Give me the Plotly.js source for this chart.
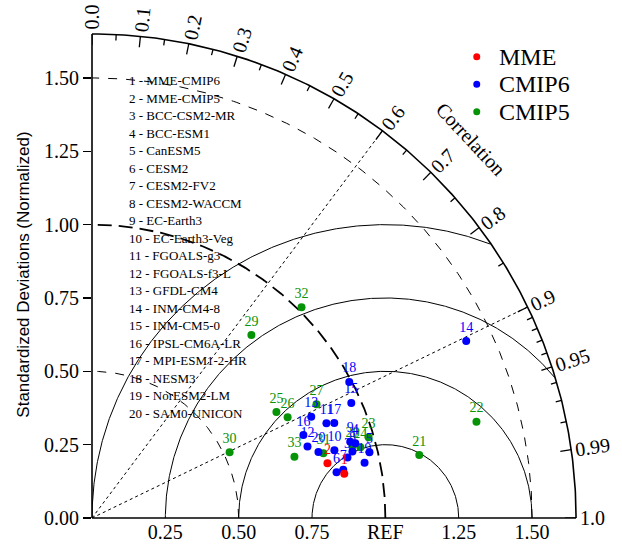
<!DOCTYPE html>
<html><head><meta charset="utf-8">
<script src="https://cdn.plot.ly/plotly-3.0.1.min.js"></script>
<style>html,body{margin:0;padding:0;background:#fff}</style>
</head><body><div id="chart" style="width:622px;height:548px"></div>
<script>
// ---- data ----
const modelNames = ["MME-CMIP6","MME-CMIP5","BCC-CSM2-MR","BCC-ESM1","CanESM5","CESM2","CESM2-FV2","CESM2-WACCM","EC-Earth3","EC-Earth3-Veg","FGOALS-g3","FGOALS-f3-L","GFDL-CM4","INM-CM4-8","INM-CM5-0","IPSL-CM6A-LR","MPI-ESM1-2-HR","NESM3","NorESM2-LM","SAM0-UNICON"];
const groupNames = ["MME","CMIP6","CMIP5"];

const mmeIds  = [1, 2];
const mmeStd  = [0.873, 0.824];
const mmeCorr = [0.985, 0.974];

const cmip6Ids  = [3,4,5,6,7,8,9,10,11,12,13,14,15,16,17,18,19,20];
const cmip6Std  = [0.895,0.933,0.972,0.848,0.872,0.916,0.918,0.858,0.862,0.774,0.823,1.411,0.967,0.774,0.887,0.992,0.948,0.804];
const cmip6Corr = [0.973,0.962,0.973,0.983,0.982,0.969,0.959,0.963,0.927,0.949,0.908,0.904,0.914,0.931,0.931,0.884,0.980,0.960];

const cmip5Ids  = [21,22,23,24,25,26,27,28,29,30,31,32,33];
const cmip5Std  = [1.136,1.351,0.982,0.946,0.725,0.750,0.858,0.921,0.827,0.520,0.819,1.013,0.721];
const cmip5Corr = [0.982,0.970,0.960,0.967,0.867,0.889,0.892,0.964,0.657,0.902,0.963,0.705,0.957];

const stdTickVals = [0, 0.25, 0.5, 0.75, 1.0, 1.25, 1.5];
const xTickText = ["", "0.25", "0.50", "0.75", "REF", "1.25", "1.50"];
const corrMajor = [0.0,0.1,0.2,0.3,0.4,0.5,0.6,0.7,0.8,0.9,0.95,0.99,1.0];
const corrMajorText = ["0.0","0.1","0.2","0.3","0.4","0.5","0.6","0.7","0.8","0.9","0.95","0.99","1.0"];
const corrMinor = [0.05,0.15,0.25,0.35,0.45,0.55,0.65,0.75,0.85,0.91,0.92,0.93,0.94,0.96,0.97,0.98];
const rmsRadii = [0.25, 0.5, 0.75, 1.0];
const stdArcsThin = [0.5, 1.5];
const refStd = 1.0;
const radialCorr = [0.6, 0.9];
const SMAX = 1.65;
const RMAX = 1.66;

// ---- helpers ----
const SERIF = "Liberation Serif, Times New Roman, serif";
const PX = 484 / SMAX; // pixels per unit
const PLOT = RMAX * PX;
function toXY(s, c){ return [s*c, s*Math.sqrt(Math.max(0,1-c*c))]; }
function arcTrace(r, dash, width){
  const x=[], y=[];
  for(let i=0;i<=240;i++){ const a=Math.PI/2*i/240; x.push(r*Math.cos(a)); y.push(r*Math.sin(a)); }
  return {x,y,mode:'lines',line:{color:'black',width:width,dash:dash},hoverinfo:'skip',showlegend:false};
}
function rmsTrace(R){
  const x=[], y=[];
  for(let i=0;i<=600;i++){
    const p=Math.PI*i/600; const xx=1+R*Math.cos(p), yy=R*Math.sin(p);
    if (xx*xx+yy*yy <= SMAX*SMAX+1e-9 && xx>=-1e-9){ x.push(xx); y.push(yy);} else { x.push(null); y.push(null); }
  }
  return {x,y,mode:'lines',line:{color:'black',width:1},hoverinfo:'skip',showlegend:false};
}
function groupTrace(name, ids, std, corr, color){
  const x=[], y=[];
  for(let i=0;i<ids.length;i++){ const p=toXY(std[i],corr[i]); x.push(p[0]); y.push(p[1]); }
  return {x,y,name,mode:'markers+text',text:ids.map(String),textposition:'top center',
    textfont:{family:SERIF,size:14,color:color},marker:{color:color,size:8},
    hoverinfo:'skip',showlegend:false,cliponaxis:false};
}

const traces = [];
traces.push(arcTrace(SMAX,'solid',1.6));
stdArcsThin.forEach(r=>traces.push(arcTrace(r,'dash',1)));
traces.push(arcTrace(refStd,'14px,7px',1.8));
rmsRadii.forEach(R=>traces.push(rmsTrace(R)));
radialCorr.forEach(c=>{ const p=toXY(SMAX,c); traces.push({x:[0,p[0]],y:[0,p[1]],mode:'lines',line:{color:'black',width:1,dash:'3px,3px'},hoverinfo:'skip',showlegend:false}); });
function tickTrace(list, len){
  const x=[], y=[];
  list.forEach(c=>{ const a=toXY(SMAX,c), b=toXY(SMAX-len,c); x.push(a[0],b[0],null); y.push(a[1],b[1],null); });
  return {x,y,mode:'lines',line:{color:'black',width:1.3},hoverinfo:'skip',showlegend:false};
}
traces.push(tickTrace(corrMajor, 11/PX));
traces.push(tickTrace(corrMinor, 6/PX));

const colors = {MME:'#ff0000', CMIP6:'#0000ff', CMIP5:'#079307'};
traces.push(groupTrace('CMIP5', cmip5Ids, cmip5Std, cmip5Corr, colors.CMIP5));
traces.push(groupTrace('CMIP6', cmip6Ids, cmip6Std, cmip6Corr, colors.CMIP6));
traces.push(groupTrace('MME', mmeIds, mmeStd, mmeCorr, colors.MME));

const annotations = [];
corrMajor.forEach((c,i)=>{
  const t = corrMajorText[i];
  const wpx = (t.length-1)*10 + 5;
  const r = SMAX + (4 + wpx/2)/PX;
  const p = toXY(r,c);
  const ang = Math.acos(c)*180/Math.PI;
  annotations.push({x:p[0]/RMAX,y:p[1]/RMAX,xref:'paper',yref:'paper',text:t,showarrow:false,textangle:-ang,
    font:{family:SERIF,size:20,color:'black'},xanchor:'center',yanchor:'middle'});
});
{ const p = toXY(1.825, Math.cos(45*Math.PI/180));
  annotations.push({x:p[0]/RMAX,y:p[1]/RMAX,xref:'paper',yref:'paper',text:'Correlation',showarrow:false,textangle:47,
    xanchor:'center',yanchor:'middle',font:{family:SERIF,size:20,color:'black'}}); }
modelNames.forEach((n,i)=>{
  const ypx = 80.7 + i*17.5;
  annotations.push({x:(127-92)/PLOT, y:(518-ypx)/PLOT, xref:'paper', yref:'paper', xanchor:'left', yanchor:'middle',
    text:(i+1)+' - '+n, showarrow:false, font:{family:SERIF,size:13,color:'black'}});
});
const shapes = [];
groupNames.forEach((g,i)=>{
  const ypx = 56.7 + i*27.5;
  annotations.push({x:(496.7-92)/PLOT, y:(518-ypx)/PLOT, xref:'paper', yref:'paper', xanchor:'left', yanchor:'middle',
    text:g, showarrow:false, font:{family:SERIF,size:24,color:'black'}});
  shapes.push({type:'circle', xref:'paper', yref:'paper', xsizemode:'pixel', ysizemode:'pixel',
    xanchor:(476.7-92)/PLOT, yanchor:(518-ypx)/PLOT, x0:-3.5, x1:3.5, y0:-3.5, y1:3.5,
    fillcolor:colors[g], line:{width:0}});
});
shapes.push({type:'line', xref:'paper', yref:'paper', x0:0, y0:0, x1:SMAX/RMAX, y1:0, line:{color:'black',width:1.6}});
shapes.push({type:'line', xref:'paper', yref:'paper', x0:0, y0:0, x1:0, y1:SMAX/RMAX, line:{color:'black',width:1.6}});

const layout = {
  width:622, height:548,
  margin:{l:92,r:622-92-PLOT,t:548-30-PLOT,b:30},
  paper_bgcolor:'white', plot_bgcolor:'white',
  showlegend:false,
  xaxis:{range:[0,RMAX], showgrid:false, zeroline:false, showline:false,
    tickvals:stdTickVals, ticktext:xTickText, ticks:'', tickfont:{family:SERIF,size:20,color:'black'}, fixedrange:true},
  yaxis:{range:[0,RMAX], showgrid:false, zeroline:false, showline:false,
    tickvals:stdTickVals, ticktext:stdTickVals.map(v=>v.toFixed(2)), ticks:'outside', ticklen:8, tickwidth:1.3, tickcolor:'black',
    tickfont:{family:SERIF,size:20,color:'black'},
    title:{text:'Standardized Deviations (Normalized)', font:{family:'Liberation Sans, Arial, sans-serif',size:17,color:'black'}, standoff:10}, fixedrange:true},
  annotations, shapes
};
Plotly.newPlot('chart', traces, layout, {staticPlot:true, displayModeBar:false});
</script></body></html>
